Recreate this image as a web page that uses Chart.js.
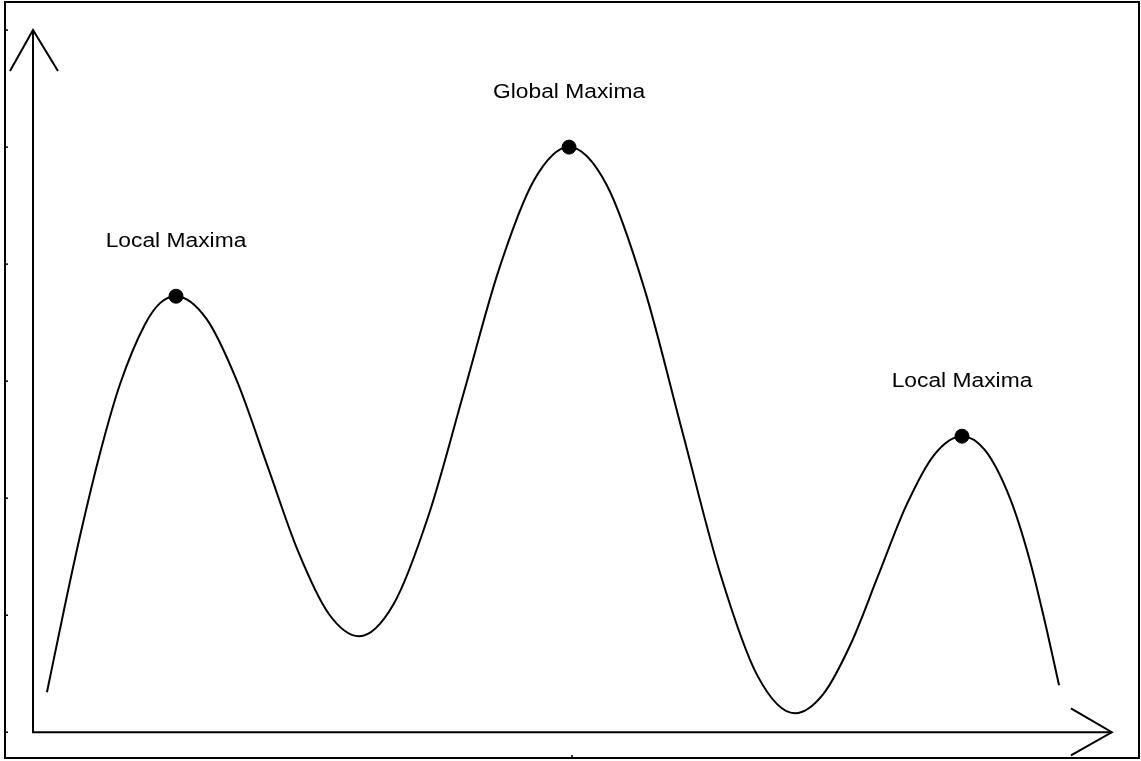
<!DOCTYPE html>
<html>
<head>
<meta charset="utf-8">
<script src="https://cdn.jsdelivr.net/npm/chart.js@4.4.0/dist/chart.umd.min.js"></script>
<style>
  html, body { margin: 0; padding: 0; background: #fff; }
  #wrap { width: 1141px; height: 761px; }
</style>
</head>
<body>
<div id="wrap"><canvas id="maximaChart"></canvas></div>
<script>
// curve, left to right
const curveX = [0.370, 0.538, 0.661, 0.838, 1.014, 1.235, 1.367, 1.508,
  1.777, 2.046, 2.315, 2.584, 2.853, 3.122,
  3.430, 3.739, 4.048, 4.356, 4.665, 4.974,
  5.306, 5.638, 5.970, 6.302, 6.634, 6.966,
  7.212, 7.458, 7.703, 7.948, 8.194, 8.439,
  8.642, 8.862, 9.039, 9.171, 9.295];
const curveY = [0.342, 1.128, 1.675, 2.385, 2.974, 3.487, 3.667, 3.726,
  3.532, 3.000, 2.274, 1.547, 1.015, 0.821,
  1.101, 1.865, 2.910, 3.955, 4.716, 5.000,
  4.676, 3.791, 2.581, 1.372, 0.486, 0.162,
  0.321, 0.754, 1.346, 1.938, 2.371, 2.530,
  2.410, 2.000, 1.462, 0.940, 0.402];

const peakX = [1.508, 4.974, 8.439];
const peakY = [3.726, 5.000, 2.530];
const peakLabels = ["Local Maxima", "Global Maxima", "Local Maxima"];

// drawn axes with arrows
const axisX = [0.247, 0.247, 9.76];
const axisY = [6.0, 0, 0];
const upHeadX = [0.044, 0.247, 0.467];
const upHeadY = [5.65, 6.0, 5.65];
const rightHeadX = [9.40, 9.76, 9.40];
const rightHeadY = [0.205, 0, -0.197];

const yTicks = [0, 1, 2, 3, 4, 5, 6];
const xTicks = [5];

function toPoints(xs, ys) {
  return xs.map((x, i) => ({ x: x, y: ys[i] }));
}

function lineSet(xs, ys) {
  return {
    data: toPoints(xs, ys),
    showLine: true,
    borderColor: "#000",
    borderWidth: 2,
    pointRadius: 0,
    fill: false
  };
}

const extrasPlugin = {
  id: "extras",
  afterDraw(chart) {
    const ctx = chart.ctx;
    const xs = chart.scales.x;
    const ys = chart.scales.y;
    const area = chart.chartArea;

    // small inward ticks on the frame
    ctx.save();
    ctx.strokeStyle = "#000";
    ctx.lineWidth = 1.5;
    yTicks.forEach(v => {
      const py = ys.getPixelForValue(v);
      ctx.beginPath();
      ctx.moveTo(area.left, py);
      ctx.lineTo(area.left + 3, py);
      ctx.stroke();
    });
    xTicks.forEach(v => {
      const px = xs.getPixelForValue(v);
      ctx.beginPath();
      ctx.moveTo(px, area.bottom);
      ctx.lineTo(px, area.bottom - 3);
      ctx.stroke();
    });

    // labels above the peaks
    ctx.fillStyle = "#000";
    ctx.font = "20px 'Liberation Sans', Arial, sans-serif";
    ctx.textAlign = "center";
    ctx.textBaseline = "alphabetic";
    peakLabels.forEach((label, i) => {
      const px = xs.getPixelForValue(peakX[i]);
      const py = ys.getPixelForValue(peakY[i]);
      ctx.save();
      ctx.translate(px, py - 49);
      ctx.scale(1.14, 1);
      ctx.fillText(label, 0, 0);
      ctx.restore();
    });
    ctx.restore();
  }
};

const borderOnly = {
  display: true,
  ticks: { display: false, padding: 0 },
  grid: { display: false, drawTicks: false, tickLength: 0 },
  border: { display: true, color: "#000", width: 2 }
};

new Chart(document.getElementById("maximaChart"), {
  type: "scatter",
  data: {
    datasets: [
      {
        data: toPoints(curveX, curveY),
        showLine: true,
        borderColor: "#000",
        borderWidth: 2,
        pointRadius: 0,
        cubicInterpolationMode: "monotone",
        fill: false
      },
      lineSet(axisX, axisY),
      lineSet(upHeadX, upHeadY),
      lineSet(rightHeadX, rightHeadY),
      {
        data: toPoints(peakX, peakY),
        backgroundColor: "#000",
        borderColor: "#000",
        borderWidth: 1,
        pointRadius: 7
      }
    ]
  },
  options: {
    responsive: true,
    maintainAspectRatio: false,
    animation: false,
    layout: { autoPadding: false, padding: { left: 5, top: 2, right: 2, bottom: 3 } },
    plugins: {
      legend: { display: false },
      tooltip: { enabled: false }
    },
    scales: {
      x: Object.assign({ type: "linear", position: "bottom", min: 0, max: 10 }, borderOnly),
      y: Object.assign({ type: "linear", position: "left", min: -0.22, max: 6.24 }, borderOnly),
      x2: Object.assign({ type: "linear", position: "top", min: 0, max: 10 }, borderOnly),
      y2: Object.assign({ type: "linear", position: "right", min: 0, max: 1 }, borderOnly)
    }
  },
  plugins: [extrasPlugin]
});
</script>
</body>
</html>
